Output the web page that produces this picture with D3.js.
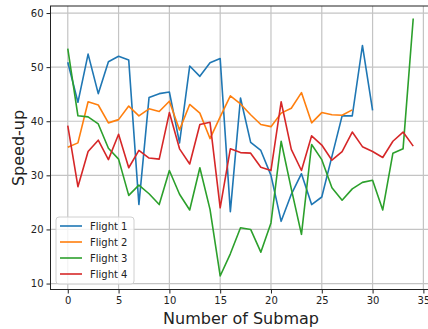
<!DOCTYPE html>
<html><head><meta charset="utf-8">
<script src="https://cdn.jsdelivr.net/npm/d3@7"></script>
<style>body{margin:0;background:#fff}svg{display:block}text{font-family:"DejaVu Sans",sans-serif;fill:#222}</style>
</head><body><svg id="c" width="428" height="329"></svg>
<script>
const seriesNames = ["Flight 1", "Flight 2", "Flight 3", "Flight 4"];
const flight1 = [50.9, 43.5, 52.4, 45.1, 51.0, 52.0, 51.3, 24.6, 44.4, 45.1, 45.4, 36.0, 50.2, 48.3, 50.8, 51.6, 23.3, 44.3, 36.1, 34.6, 30.0, 21.5, 26.5, 30.3, 24.6, 26.0, 33.5, 41.0, 41.0, 54.0, 42.0];
const flight2 = [35.2, 36.0, 43.6, 43.0, 39.7, 40.3, 42.8, 41.0, 42.3, 41.8, 43.7, 38.4, 43.1, 41.5, 36.8, 40.8, 44.7, 43.2, 41.2, 39.4, 39.0, 41.5, 42.4, 45.3, 39.7, 41.6, 41.2, 41.1, 42.1];
const flight3 = [53.4, 41.0, 40.8, 39.5, 35.0, 33.0, 26.3, 28.2, 26.6, 24.6, 30.9, 26.5, 23.6, 31.4, 23.7, 11.4, 15.5, 20.3, 20.0, 15.8, 21.2, 36.3, 27.5, 19.1, 35.7, 32.9, 27.7, 25.4, 27.5, 28.7, 29.1, 23.6, 34.1, 34.9, 59.0];
const flight4 = [39.2, 27.9, 34.4, 36.5, 32.9, 37.6, 31.4, 34.6, 33.2, 33.0, 41.6, 34.9, 32.1, 39.4, 39.8, 24.0, 34.9, 34.2, 34.1, 31.5, 30.9, 43.6, 34.8, 30.9, 37.3, 35.6, 32.8, 34.4, 38.0, 35.3, 34.4, 33.3, 36.3, 38.0, 35.4];
const xTicks = [0, 5, 10, 15, 20, 25, 30, 35];
const yTicks = [10, 20, 30, 40, 50, 60];
const colors = ["#1f77b4", "#ff7f0e", "#2ca02c", "#d62728"];
const allSeries = [flight1, flight2, flight3, flight4];

const svg = d3.select("#c");
const L = 50.5, R = 430.5, T = 6, B = 289.5;
const x = d3.scaleLinear().domain([-1.7, 35.7]).range([L, R]);
const y = d3.scaleLinear().domain([8.9, 61.3]).range([B, T]);

// grid
const g = svg.append("g");
g.selectAll(".gx").data(xTicks).enter().append("line")
  .attr("x1", d => x(d)).attr("x2", d => x(d)).attr("y1", T).attr("y2", B)
  .attr("stroke", "#c4c4c4").attr("stroke-width", 1.2);
g.selectAll(".gy").data(yTicks).enter().append("line")
  .attr("y1", d => y(d)).attr("y2", d => y(d)).attr("x1", L).attr("x2", R)
  .attr("stroke", "#c4c4c4").attr("stroke-width", 1.2);

// lines
const line = d3.line().x((d, i) => x(i)).y(d => y(d));
allSeries.forEach((s, k) => {
  svg.append("path").datum(s).attr("d", line).attr("fill", "none")
    .attr("stroke", colors[k]).attr("stroke-width", 1.6).attr("stroke-linejoin", "round");
});

// axes
const xAxis = d3.axisBottom(x).tickValues(xTicks).tickSize(4).tickPadding(3);
const yAxis = d3.axisLeft(y).tickValues(yTicks).tickSize(4).tickPadding(3);
const ga = svg.append("g").attr("transform", `translate(0,${B})`).call(xAxis);
const gb = svg.append("g").attr("transform", `translate(${L},0)`).call(yAxis);
[ga, gb].forEach(a => {
  a.select(".domain").remove();
  a.selectAll("text").attr("font-size", 10).attr("fill", "#222").style("font-family", "DejaVu Sans");
  a.selectAll("line").attr("stroke", "#222");
});
svg.append("rect").attr("x", L).attr("y", T).attr("width", R - L).attr("height", B - T)
  .attr("fill", "none").attr("stroke", "#222").attr("stroke-width", 1);

// labels
svg.append("text").attr("x", 241).attr("y", 324).attr("text-anchor", "middle")
  .attr("font-size", 16).text("Number of Submap");
svg.append("text").attr("transform", "translate(24,148) rotate(-90)").attr("text-anchor", "middle")
  .attr("font-size", 16).text("Speed-up");

// legend
const lg = svg.append("g");
lg.append("rect").attr("x", 56).attr("y", 217).attr("width", 78).attr("height", 67).attr("rx", 3)
  .attr("fill", "#fff").attr("fill-opacity", 0.8).attr("stroke", "#d0d0d0");
seriesNames.forEach((n, k) => {
  const yy = 226 + k * 16;
  lg.append("line").attr("x1", 60).attr("x2", 82).attr("y1", yy).attr("y2", yy)
    .attr("stroke", colors[k]).attr("stroke-width", 1.6);
  lg.append("text").attr("x", 90).attr("y", yy).attr("dy", "0.35em").attr("font-size", 10).text(n);
});
</script></body></html>
